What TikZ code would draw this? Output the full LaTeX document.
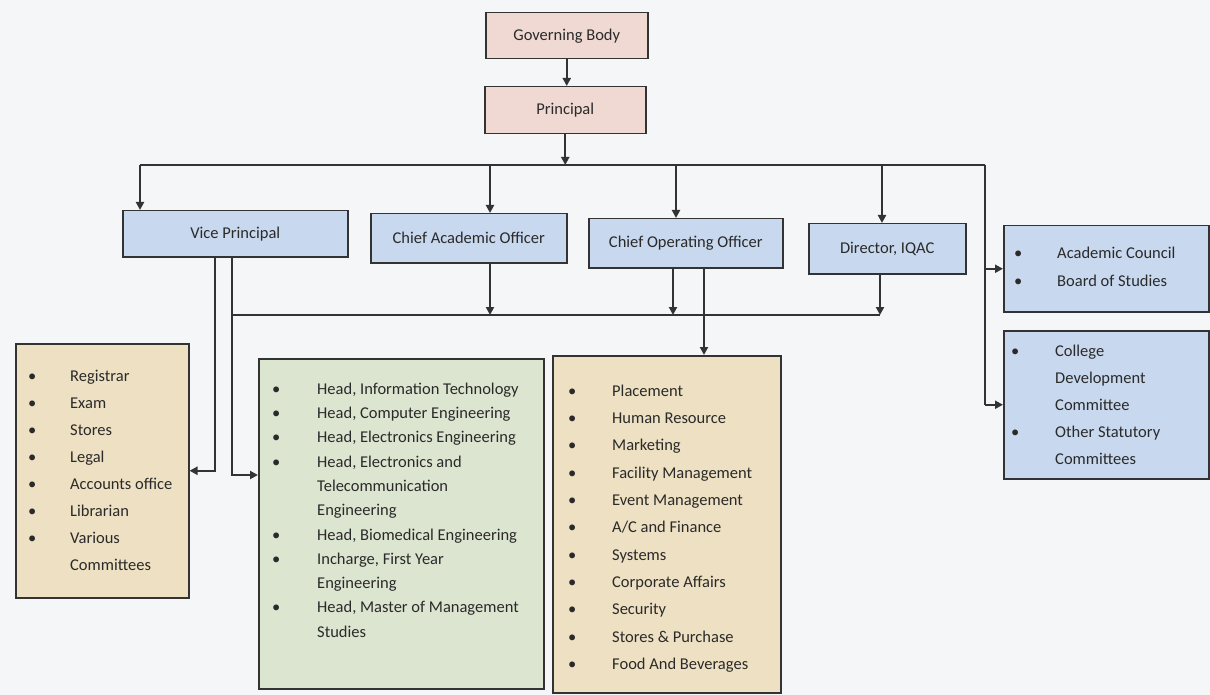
\documentclass[tikz,border=0pt]{standalone}
\usepackage{fontspec}
\setmainfont{Carlito}
\usetikzlibrary{arrows.meta}
\definecolor{bgc}{HTML}{F5F6F8}
\definecolor{pinkc}{HTML}{EFD9D2}
\definecolor{bluec}{HTML}{C8D8EE}
\definecolor{tanc}{HTML}{EEE0C2}
\definecolor{greenc}{HTML}{DCE5D0}
\definecolor{linec}{HTML}{333333}
\definecolor{txtc}{HTML}{2A2A2A}
\tikzset{
  box/.style={draw=linec, line width=1.5pt, rectangle, inner sep=0pt, anchor=north west, text=txtc, font=\fontsize{16.5}{18}\selectfont},
  listtext/.style={anchor=north west, inner sep=0pt, text=txtc, align=left},
  ln/.style={draw=linec, line width=2.2pt},
  arr/.style={draw=linec, line width=2.2pt, -{Triangle[length=8pt,width=8pt]}}
}
\begin{document}
\begin{tikzpicture}[x=1pt,y=-1pt]
\fill[bgc] (0,0) rectangle (1210,695);
\useasboundingbox (0,0) rectangle (1210,695);

% top boxes
\node[box, fill=pinkc, minimum width=162pt, minimum height=46pt] (gb) at (485,12) {Governing Body};
\node[box, fill=pinkc, minimum width=161pt, minimum height=47pt] (pr) at (484,86) {Principal};

% second level
\node[box, fill=bluec, minimum width=225pt, minimum height=46pt] (vp) at (122,210) {Vice Principal};
\node[box, fill=bluec, minimum width=196pt, minimum height=49pt] (cao) at (370,213) {Chief Academic Officer};
\node[box, fill=bluec, minimum width=194pt, minimum height=49pt] (coo) at (588,218) {Chief Operating Officer};
\node[box, fill=bluec, minimum width=157pt, minimum height=50pt] (dir) at (808,223) {Director, IQAC};

% right boxes
\node[box, fill=bluec, minimum width=205pt, minimum height=86pt] (ac) at (1003,225) {};
\node[box, fill=bluec, minimum width=205pt, minimum height=148pt] (cd) at (1003,330) {};

% bottom boxes
\node[box, fill=tanc, minimum width=173pt, minimum height=254pt] (tl) at (15,343) {};
\node[box, fill=greenc, minimum width=285pt, minimum height=330pt] (gr) at (258,358) {};
\node[box, fill=tanc, minimum width=228pt, minimum height=337pt] (tm) at (552,355) {};

% lists
\node[listtext, font=\fontsize{16.5}{27}\selectfont] (tlt) at (28,362) {%
\begin{tabular}{@{}p{42pt}@{}l@{}}
\textbullet & Registrar\\
\textbullet & Exam\\
\textbullet & Stores\\
\textbullet & Legal\\
\textbullet & Accounts office\\
\textbullet & Librarian\\
\textbullet & Various\\
 & Committees
\end{tabular}};

\node[listtext, font=\fontsize{16.5}{24.3}\selectfont] (grt) at (272,377) {%
\begin{tabular}{@{}p{45pt}@{}l@{}}
\textbullet & Head, Information Technology\\
\textbullet & Head, Computer Engineering\\
\textbullet & Head, Electronics Engineering\\
\textbullet & Head, Electronics and\\
 & Telecommunication\\
 & Engineering\\
\textbullet & Head, Biomedical Engineering\\
\textbullet & Incharge, First Year\\
 & Engineering\\
\textbullet & Head, Master of Management\\
 & Studies
\end{tabular}};

\node[listtext, font=\fontsize{16.5}{27.3}\selectfont] (tmt) at (568,377) {%
\begin{tabular}{@{}p{44pt}@{}l@{}}
\textbullet & Placement\\
\textbullet & Human Resource\\
\textbullet & Marketing\\
\textbullet & Facility Management\\
\textbullet & Event Management\\
\textbullet & A/C and Finance\\
\textbullet & Systems\\
\textbullet & Corporate Affairs\\
\textbullet & Security\\
\textbullet & Stores \& Purchase\\
\textbullet & Food And Beverages
\end{tabular}};

\node[listtext, font=\fontsize{16.5}{28}\selectfont] (act) at (1014,239) {%
\begin{tabular}{@{}p{43pt}@{}l@{}}
\textbullet & Academic Council\\
\textbullet & Board of Studies
\end{tabular}};

\node[listtext, font=\fontsize{16.5}{27}\selectfont] (cdt) at (1011,337) {%
\begin{tabular}{@{}p{44pt}@{}l@{}}
\textbullet & College\\
 & Development\\
 & Committee\\
\textbullet & Other Statutory\\
 & Committees
\end{tabular}};

% connectors
\draw[arr] (gb.south) -- (gb.south |- pr.north);
\coordinate (busL) at (140,165);
\coordinate (busR) at (985,165);
\draw[arr] (pr.south) -- (pr.south |- busL);
\draw[ln] (busL) -- (busR);
\draw[arr] (busL) -- (busL |- vp.north);
\coordinate (d2) at (490,165);
\draw[arr] (d2) -- (d2 |- cao.north);
\coordinate (d3) at (676,165);
\draw[arr] (d3) -- (d3 |- coo.north);
\coordinate (d4) at (882,165);
\draw[arr] (d4) -- (d4 |- dir.north);
\draw[ln] (busR) -- (busR |- cd.west);
\draw[arr] (busR |- ac.west) -- (ac.west);
\draw[arr] (busR |- cd.west) -- (cd.west);

% lower bus
\coordinate (lbL) at (232,315);
\coordinate (lbR) at (880,315);
\draw[ln] (lbL) -- (lbR);
\coordinate (u2) at (490,315);
\draw[arr] (u2 |- cao.south) -- (u2);
\coordinate (u3) at (673,315);
\draw[arr] (u3 |- coo.south) -- (u3);
\draw[arr] (lbR |- dir.south) -- (lbR);

% vice principal branches
\coordinate (v1) at (215,470);
\draw[arr] (v1 |- vp.south) -- (v1 |- tl.east) -- (tl.east);
\coordinate (v2) at (232,475);
\draw[arr] (v2 |- vp.south) -- (v2) -- (v2 -| gr.west);

% COO to operations
\coordinate (v3) at (704,300);
\draw[arr] (v3 |- coo.south) -- (v3 |- tm.north);
\end{tikzpicture}
\end{document}
